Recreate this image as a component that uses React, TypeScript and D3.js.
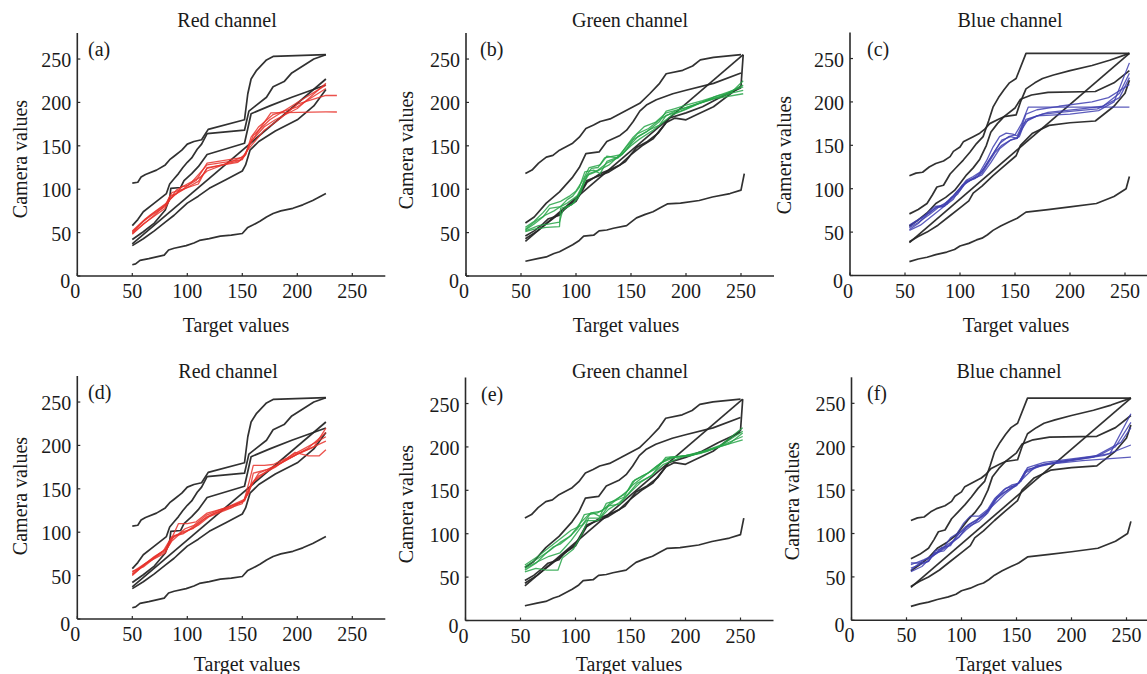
import React from "react";
import * as d3 from "d3";

type Pt = [number, number];

const xTicks = [0, 50, 100, 150, 200, 250];
const yTicks = [0, 50, 100, 150, 200, 250];
const panelLetters = ["(a)", "(b)", "(c)", "(d)", "(e)", "(f)"];
const channelTitles = ["Red channel", "Green channel", "Blue channel"];
const xLabel = "Target values";
const yLabel = "Camera values";

// ---- black reference curves (shared by both rows) ----
const redBlack: Pt[][] = [
  [[50,107],[55,108],[58,114],[62,117],[72,122],[80,128],[84,134],[88,138],[95,145],[100,152],[106,155],[113,157],[119,169],[152,180],[155,210],[158,227],[163,237],[172,249],[178,253],[226,255]],
  [[50,58],[55,65],[60,74],[70,84],[81,95],[84,106],[88,112],[92,118],[96,125],[100,131],[104,136],[109,146],[113,152],[118,164],[152,168],[156,190],[162,196],[172,206],[178,218],[188,224],[195,234],[205,242],[215,250],[226,255]],
  [[50,42],[60,51],[70,61],[80,76],[84,90],[85,101],[94,102],[97,110],[104,118],[110,126],[118,140],[152,153],[155,170],[158,187],[175,196],[195,206],[226,220]],
  [[50,37],[226,227]],
  [[50,35],[60,43],[70,52],[80,62],[88,70],[93,76],[100,84],[110,92],[120,101],[135,111],[150,121],[153,128],[157,145],[165,155],[180,167],[200,180],[215,196],[226,215]],
  [[50,13],[53,14],[57,18],[65,20],[72,22],[79,24],[83,30],[88,32],[99,35],[106,38],[111,41],[120,43],[130,46],[140,47],[150,49],[155,56],[160,59],[166,63],[172,68],[178,72],[185,75],[196,78],[205,82],[214,87],[220,91],[226,95]],
];
const greenBlack: Pt[][] = [
  [[54,118],[60,122],[66,130],[73,137],[79,139],[85,145],[91,149],[97,153],[103,160],[109,170],[116,174],[122,178],[131,181],[140,187],[146,191],[152,195],[158,199],[167,210],[176,222],[182,233],[197,237],[206,242],[213,249],[225,252],[250,255]],
  [[54,61],[62,68],[73,84],[85,97],[97,114],[103,125],[109,141],[121,143],[128,155],[140,162],[146,168],[152,178],[158,190],[164,197],[173,203],[188,210],[200,214],[225,222],[250,234]],
  [[54,40],[252,255]],
  [[54,46],[62,52],[70,60],[75,66],[85,70],[90,78],[100,86],[110,108],[122,118],[130,122],[140,128],[150,140],[160,150],[170,158],[182,177],[190,182],[200,180],[210,186],[225,195],[250,219],[252,255]],
  [[54,43],[65,52],[75,62],[85,72],[100,88],[110,110],[120,115],[130,120],[145,132],[155,148],[165,155],[175,165],[185,182],[200,188],[215,195],[230,205],[250,217]],
  [[54,17],[65,20],[73,22],[80,26],[85,28],[91,32],[97,36],[103,41],[107,46],[116,47],[121,52],[128,53],[134,55],[146,58],[150,62],[155,67],[163,71],[170,74],[177,79],[183,83],[195,84],[212,87],[224,91],[240,95],[250,99],[253,118]],
];
const blueBlack: Pt[][] = [
  [[54,115],[60,118],[66,119],[72,125],[78,129],[85,132],[91,137],[94,143],[100,148],[103,154],[112,160],[118,164],[122,168],[127,175],[135,180],[140,183],[151,185],[155,200],[160,215],[168,222],[175,227],[185,231],[200,236],[220,242],[236,248],[254,256]],
  [[54,71],[62,76],[70,83],[75,93],[79,102],[85,104],[91,117],[97,125],[103,133],[109,142],[115,152],[121,160],[126,178],[130,194],[135,205],[140,214],[145,222],[151,227],[160,256],[254,256]],
  [[54,57],[62,64],[70,72],[78,83],[87,90],[95,98],[100,106],[106,116],[112,124],[118,134],[124,150],[128,165],[134,175],[140,183],[150,193],[155,203],[165,208],[180,211],[223,212],[240,222],[254,236]],
  [[54,38],[254,256]],
  [[54,39],[62,45],[70,50],[80,58],[90,68],[100,78],[108,86],[112,95],[120,103],[130,115],[140,126],[151,138],[155,150],[166,164],[181,173],[200,176],[223,178],[240,195],[250,210],[254,225]],
  [[54,16],[62,19],[70,21],[78,24],[88,27],[95,30],[100,34],[108,37],[115,41],[120,43],[125,47],[130,52],[137,57],[145,62],[152,66],[160,73],[180,76],[200,79],[224,83],[240,91],[251,100],[254,114]],
];

// ---- coloured camera curves ----
const redTop: Pt[][] = [
  [[50,50],[60,63],[70,72],[80,80],[84,92],[90,95],[95,103],[100,104],[108,110],[118,130],[148,136],[153,140],[158,160],[165,172],[178,186],[200,195],[226,216]],
  [[50,48],[60,60],[80,78],[84,88],[92,97],[100,102],[110,109],[118,124],[148,133],[153,140],[158,155],[170,172],[180,180],[200,193],[226,222]],
  [[50,52],[62,66],[80,82],[86,96],[96,100],[104,108],[118,128],[150,134],[156,150],[165,168],[176,188],[226,189],[236,189]],
  [[50,49],[70,70],[82,84],[90,99],[100,106],[112,114],[118,121],[130,127],[150,137],[158,150],[170,168],[185,182],[200,198],[226,208],[236,208]],
  [[50,51],[66,70],[82,85],[88,93],[98,101],[110,106],[118,125],[146,131],[152,138],[160,162],[175,180],[200,200],[226,220]],
];
const greenTop: Pt[][] = [
  [[54,53],[62,60],[70,68],[76,78],[86,80],[92,88],[97,92],[103,102],[108,120],[116,122],[122,118],[128,132],[134,135],[140,138],[146,146],[152,157],[158,162],[164,166],[170,172],[176,178],[182,190],[190,193],[200,197],[215,202],[230,208],[245,212],[252,214]],
  [[54,51],[62,54],[73,56],[85,57],[86,78],[96,82],[102,90],[108,113],[114,124],[120,125],[126,136],[134,138],[142,140],[150,152],[156,160],[166,168],[176,174],[182,185],[195,190],[210,198],[230,206],[252,220]],
  [[54,56],[62,63],[70,73],[76,82],[86,86],[94,92],[100,98],[106,110],[112,125],[122,128],[128,138],[138,136],[146,150],[152,160],[162,172],[172,177],[182,188],[200,194],[220,203],[240,210],[252,225]],
  [[54,54],[64,64],[72,70],[80,75],[86,80],[92,84],[104,95],[110,116],[118,120],[124,124],[130,128],[140,140],[148,152],[156,164],[166,170],[178,182],[190,190],[205,196],[225,204],[252,210]],
  [[54,52],[66,58],[76,60],[85,62],[88,76],[98,84],[106,105],[112,118],[120,122],[128,130],[138,136],[150,150],[158,158],[170,168],[180,178],[188,186],[200,192],[225,206],[252,218]],
];
const blueTop: Pt[][] = [
  [[54,56],[60,62],[66,67],[72,74],[78,80],[84,79],[88,85],[94,92],[100,101],[106,110],[112,114],[118,119],[124,132],[130,148],[136,160],[142,164],[148,163],[152,161],[156,172],[160,186],[170,191],[190,195],[220,200],[235,205],[254,220]],
  [[54,53],[62,60],[70,70],[78,78],[86,80],[92,90],[100,98],[106,108],[114,112],[120,118],[126,130],[132,142],[138,150],[146,156],[152,158],[156,168],[162,180],[175,186],[200,189],[225,192],[245,205],[254,228]],
  [[54,58],[64,66],[72,72],[80,80],[88,82],[96,95],[104,105],[112,112],[120,120],[128,136],[136,152],[144,160],[150,162],[156,175],[162,194],[254,194]],
  [[54,55],[62,61],[72,70],[82,80],[90,86],[98,94],[106,109],[116,114],[122,124],[130,140],[138,156],[146,160],[152,158],[158,176],[170,184],[200,186],[226,190],[240,200],[254,245]],
  [[54,52],[64,58],[74,68],[84,78],[94,88],[102,104],[110,110],[120,116],[128,130],[136,146],[146,156],[154,160],[160,180],[180,188],[210,192],[230,195],[245,210],[254,233]],
];
const redBottom: Pt[][] = [
  [[50,52],[60,62],[70,72],[80,80],[85,92],[92,98],[98,104],[106,108],[118,120],[130,126],[150,135],[156,145],[160,168],[172,172],[185,180],[200,190],[215,198],[226,220]],
  [[50,50],[62,64],[80,76],[84,88],[92,110],[100,110],[108,112],[118,122],[135,128],[152,138],[157,162],[160,177],[170,177],[178,178],[190,185],[200,192],[226,210]],
  [[50,55],[60,60],[70,70],[80,78],[86,90],[95,100],[105,104],[118,118],[140,130],[152,136],[158,155],[165,165],[180,175],[198,192],[210,188],[220,188],[226,195]],
  [[50,54],[64,66],[78,78],[86,95],[96,98],[104,105],[115,115],[125,122],[150,133],[156,150],[165,168],[180,176],[200,190],[226,205]],
  [[50,51],[66,67],[82,82],[88,96],[98,100],[110,108],[120,118],[140,128],[152,137],[160,158],[172,170],[190,183],[210,197],[226,215]],
];
const greenBottom: Pt[][] = [
  [[54,58],[64,66],[72,76],[80,85],[86,88],[94,96],[102,106],[108,122],[116,124],[122,120],[128,135],[136,138],[144,142],[152,160],[160,166],[172,174],[182,186],[200,190],[220,195],[252,212]],
  [[54,62],[64,70],[76,80],[86,90],[96,98],[104,112],[112,122],[120,124],[128,130],[138,140],[148,150],[154,162],[166,170],[178,182],[190,188],[210,192],[232,202],[252,222]],
  [[54,56],[64,60],[74,58],[84,58],[88,72],[98,82],[106,100],[112,118],[122,118],[130,132],[140,134],[150,148],[160,160],[170,168],[182,188],[200,190],[225,198],[252,208]],
  [[54,60],[66,68],[76,74],[86,78],[96,92],[104,106],[110,115],[120,115],[130,128],[140,136],[148,146],[156,158],[168,166],[180,180],[196,188],[215,193],[240,204],[252,216]],
  [[54,64],[66,74],[76,84],[88,96],[96,104],[106,110],[114,124],[124,126],[132,136],[144,145],[152,156],[162,166],[174,178],[186,188],[205,190],[230,200],[252,218]],
];
const blueBottom: Pt[][] = [
  [[54,60],[62,64],[70,68],[76,80],[84,84],[90,95],[96,100],[102,112],[108,120],[116,120],[124,128],[130,140],[138,150],[146,156],[152,158],[160,176],[175,182],[200,186],[225,190],[240,200],[254,228]],
  [[54,66],[62,66],[70,68],[76,78],[84,80],[90,88],[98,100],[106,108],[116,114],[124,124],[132,140],[140,152],[148,155],[154,160],[160,174],[180,180],[210,184],[254,188]],
  [[54,58],[64,68],[74,74],[82,84],[90,86],[96,98],[104,108],[112,114],[122,122],[130,138],[138,146],[146,154],[152,158],[158,172],[170,178],[200,184],[230,190],[254,202]],
  [[54,56],[64,62],[72,72],[80,80],[88,88],[98,96],[106,110],[114,116],[124,126],[132,142],[142,150],[150,155],[158,170],[175,180],[205,186],[235,192],[254,238]],
  [[54,64],[66,70],[76,76],[86,84],[96,94],[104,104],[112,112],[120,122],[130,134],[140,146],[150,156],[158,166],[168,178],[190,183],[220,188],[245,205],[254,222]],
];

const channelColors = ["#e8322b", "#27a448", "#3f3fb0"];

// ---- layout (pixels) ----
const W = 1147;
const H = 674;
const axisW = 308;
const axisH = 243;
const FONT = "'Liberation Serif', 'Times New Roman', serif";

interface PanelLayout {
  ox: number; oy: number;
  titleX: number; titleY: number;
  letterX: number; letterY: number;
  xlabX: number; xlabY: number;
  ylabX: number; ylabY: number;
}

const layouts: PanelLayout[] = [
  { ox: 77.3, oy: 276, titleX: 227, titleY: 27, letterX: 88, letterY: 56, xlabX: 236, xlabY: 332, ylabX: 20, ylabY: 159 },
  { ox: 466, oy: 276, titleX: 630, titleY: 27, letterX: 480, letterY: 56, xlabX: 626, xlabY: 332, ylabX: 406, ylabY: 150 },
  { ox: 850, oy: 275.5, titleX: 1010, titleY: 27, letterX: 867, letterY: 56, xlabX: 1016, xlabY: 332, ylabX: 784, ylabY: 155 },
  { ox: 77.3, oy: 619, titleX: 228, titleY: 378, letterX: 88, letterY: 399, xlabX: 247, xlabY: 671, ylabX: 20, ylabY: 496 },
  { ox: 465.5, oy: 620.5, titleX: 630, titleY: 378, letterX: 481, letterY: 401, xlabX: 629, xlabY: 671, ylabX: 406, ylabY: 504 },
  { ox: 851.5, oy: 620.3, titleX: 1009, titleY: 378, letterX: 867, letterY: 400, xlabX: 1009, xlabY: 671, ylabX: 792, ylabY: 501 },
];

const blackSets = [redBlack, greenBlack, blueBlack];
const colorSets = [redTop, greenTop, blueTop, redBottom, greenBottom, blueBottom];

function Panel({ idx }: { idx: number }) {
  const L = layouts[idx];
  const ch = idx % 3;
  const x = d3.scaleLinear().domain([0, 280]).range([L.ox, L.ox + axisW]);
  const y = d3.scaleLinear().domain([0, 280]).range([L.oy, L.oy - axisH]);
  const line = d3
    .line<Pt>()
    .x((d) => x(d[0]))
    .y((d) => y(d[1]));
  return (
    <g>
      <text x={L.titleX} y={L.titleY} textAnchor="middle" fontSize={20} fill="#1a1a1a">
        {channelTitles[ch]}
      </text>
      <text x={L.letterX} y={L.letterY} fontSize={20} fill="#1a1a1a">
        {panelLetters[idx]}
      </text>
      {/* axes */}
      <line x1={x(0)} x2={x(0)} y1={y(0)} y2={y(280)} stroke="#2a2a2a" strokeWidth={1.6} />
      <line x1={x(0)} x2={x(280)} y1={y(0)} y2={y(0)} stroke="#2a2a2a" strokeWidth={1.6} />
      {xTicks.map((t) => (
        <g key={"xt" + t}>
          <line x1={x(t)} x2={x(t)} y1={y(0)} y2={y(0) - 3} stroke="#2a2a2a" strokeWidth={1.2} />
          <text x={x(t) - (t === 0 ? 2 : 0)} y={y(0) + 22} textAnchor="middle" fontSize={20} fill="#1a1a1a">
            {t}
          </text>
        </g>
      ))}
      {yTicks.map((t) => (
        <g key={"yt" + t}>
          <line x1={x(0)} x2={x(0) + 3} y1={y(t)} y2={y(t)} stroke="#2a2a2a" strokeWidth={1.2} />
          <text
            x={x(0) - (t === 0 ? 7 : 6)}
            y={y(t) + (t === 0 ? 5 : 1)}
            textAnchor="end"
            dominantBaseline="central"
            fontSize={20}
            fill="#1a1a1a"
          >
            {t}
          </text>
        </g>
      ))}
      <text x={L.xlabX} y={L.xlabY} textAnchor="middle" fontSize={20} fill="#1a1a1a">
        {xLabel}
      </text>
      <text
        transform={`translate(${L.ylabX},${L.ylabY}) rotate(-90)`}
        textAnchor="middle"
        dominantBaseline="central"
        fontSize={20}
        fill="#1a1a1a"
      >
        {yLabel}
      </text>
      {/* black reference curves */}
      {blackSets[ch].map((c, i) => (
        <path key={"k" + i} d={line(c) || ""} fill="none" stroke="#262626" strokeWidth={1.7} strokeLinejoin="round" opacity={0.95} />
      ))}
      {/* coloured curves */}
      {colorSets[idx].map((c, i) => (
        <path key={"c" + i} d={line(c) || ""} fill="none" stroke={channelColors[ch]} strokeWidth={1.3} strokeLinejoin="round" opacity={0.85} />
      ))}
    </g>
  );
}

export default function App() {
  return (
    <svg
      width={W}
      height={H}
      viewBox={`0 0 ${W} ${H}`}
      style={{ position: "absolute", left: 0, top: 0, background: "#fff" }}
      fontFamily={FONT}
    >
      <rect width={W} height={H} fill="#fff" />
      {[0, 1, 2, 3, 4, 5].map((i) => (
        <Panel key={i} idx={i} />
      ))}
    </svg>
  );
}
